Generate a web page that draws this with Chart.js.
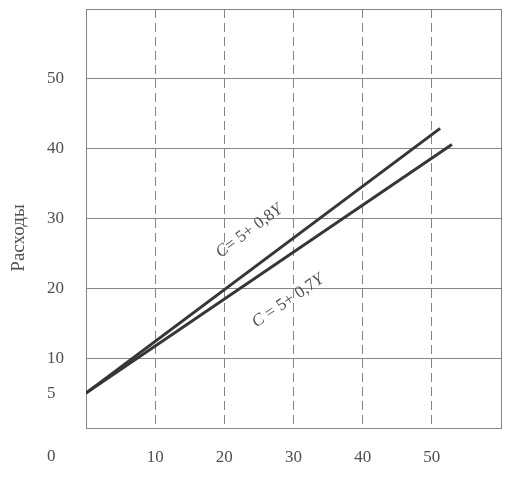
<!DOCTYPE html>
<html>
<head>
<meta charset="utf-8">
<script src="https://cdn.jsdelivr.net/npm/chart.js@4.4.1/dist/chart.umd.min.js"></script>
<style>
    body { margin: 0; background: #ffffff; }
    #wrap { width: 532px; height: 480px; }
</style>
</head>
<body>
<div id="wrap"><canvas id="chart" width="532" height="480"></canvas></div>
<script>
// Data (income Y on x, expenses C on y)
const xTicks = [0, 10, 20, 30, 40, 50, 60];
const yTicks = [0, 5, 10, 20, 30, 40, 50, 60];

const highX = [0, 51.2];   // C = 5 + 0,8Y
const highY = [5, 42.9];
const lowX = [0, 52.9];    // C = 5 + 0,7Y
const lowY = [5, 40.6];

const lineNames = ['C= 5+ 0,8Y', 'C = 5+ 0,7Y'];
const noteX = [23.6, 29.2];  // where the formula text sits, in data units
const noteY = [28.2, 18.2];

const yTitle = 'Расходы';

const GREY_TEXT = '#505050';
const GRID = '#858585';
const LINE = '#363636';
const SERIF = '"Liberation Serif", "Times New Roman", serif';

function toPoints(xs, ys) {
    return xs.map((x, i) => ({ x: x, y: ys[i] }));
}

// Text that is not part of any scale: axis title, the lone "0", formulas
const notesPlugin = {
    id: 'notes',
    afterDraw(chart) {
        const ctx = chart.ctx;
        const sx = chart.scales.x;
        const sy = chart.scales.y;
        const area = chart.chartArea;

        ctx.save();
        ctx.fillStyle = GREY_TEXT;

        // y-axis title
        ctx.font = '19px ' + SERIF;
        ctx.textAlign = 'center';
        ctx.textBaseline = 'middle';
        ctx.translate(19, 238);
        ctx.rotate(-Math.PI / 2);
        ctx.fillText(yTitle, 0, 0);
        ctx.setTransform(1, 0, 0, 1, 0, 0);

        // origin label, on the x-label row under the y labels
        ctx.font = '17px ' + SERIF;
        ctx.textAlign = 'left';
        ctx.fillText('0', sy.left, area.bottom + 29);

        // formulas, rotated along their lines
        const sets = [[highX, highY], [lowX, lowY]];
        sets.forEach(([xs, ys], i) => {
            const dx = sx.getPixelForValue(xs[1]) - sx.getPixelForValue(xs[0]);
            const dy = sy.getPixelForValue(ys[1]) - sy.getPixelForValue(ys[0]);
            const angle = Math.atan2(dy, dx);
            const name = lineNames[i];
            const parts = [
                { t: name[0], it: true },
                { t: name.slice(1, -1), it: false },
                { t: name.slice(-1), it: true }
            ];
            let total = 0;
            parts.forEach(p => {
                ctx.font = (p.it ? 'italic ' : '') + '17px ' + SERIF;
                p.w = ctx.measureText(p.t).width;
                total += p.w;
            });
            ctx.save();
            ctx.translate(sx.getPixelForValue(noteX[i]), sy.getPixelForValue(noteY[i]));
            ctx.rotate(angle);
            ctx.textAlign = 'left';
            ctx.textBaseline = 'middle';
            let pos = -total / 2;
            parts.forEach(p => {
                ctx.font = (p.it ? 'italic ' : '') + '17px ' + SERIF;
                ctx.fillText(p.t, pos, 0);
                pos += p.w;
            });
            ctx.restore();
        });
        ctx.restore();
    }
};

const ctx = document.getElementById('chart').getContext('2d');
new Chart(ctx, {
    type: 'scatter',
    data: {
        datasets: [
            {
                label: lineNames[0],
                data: toPoints(highX, highY),
                showLine: true,
                borderColor: LINE,
                borderWidth: 3,
                pointRadius: 0
            },
            {
                label: lineNames[1],
                data: toPoints(lowX, lowY),
                showLine: true,
                borderColor: LINE,
                borderWidth: 3,
                pointRadius: 0
            }
        ]
    },
    options: {
        responsive: false,
        animation: false,
        layout: {
            padding: { left: 47, right: 31, top: 9, bottom: 0 }
        },
        plugins: {
            legend: { display: false },
            tooltip: { enabled: false }
        },
        scales: {
            x: {
                type: 'linear',
                min: 0,
                max: 60,
                afterBuildTicks: (scale) => {
                    scale.ticks = xTicks.map(v => ({ value: v }));
                },
                afterFit: (scale) => {
                    scale.height = 52;
                    scale.paddingLeft = 0;
                    scale.paddingRight = 0;
                },
                grid: {
                    color: GRID,
                    lineWidth: 1,
                    drawTicks: false
                },
                border: {
                    color: GRID,
                    width: 1,
                    dash: (c) => (c.tick && (c.tick.value === 0 || c.tick.value === 60)) ? [] : [9, 5]
                },
                ticks: {
                    color: GREY_TEXT,
                    font: { family: SERIF, size: 17 },
                    padding: 19,
                    maxRotation: 0,
                    callback: (v) => (v === 0 || v === 60) ? '' : String(v)
                }
            },
            y: {
                type: 'linear',
                min: 0,
                max: 60,
                afterBuildTicks: (scale) => {
                    scale.ticks = yTicks.map(v => ({ value: v }));
                },
                afterFit: (scale) => {
                    scale.width = 39;
                    scale.paddingTop = 0;
                    scale.paddingBottom = 0;
                },
                grid: {
                    color: (c) => (c.tick && c.tick.value === 5) ? 'rgba(0,0,0,0)' : GRID,
                    lineWidth: 1,
                    drawTicks: false
                },
                border: { color: GRID, width: 1 },
                ticks: {
                    color: GREY_TEXT,
                    font: { family: SERIF, size: 17 },
                    crossAlign: 'far',
                    callback: (v) => (v === 0 || v === 60) ? '' : String(v)
                }
            }
        }
    },
    plugins: [notesPlugin]
});
</script>
</body>
</html>
